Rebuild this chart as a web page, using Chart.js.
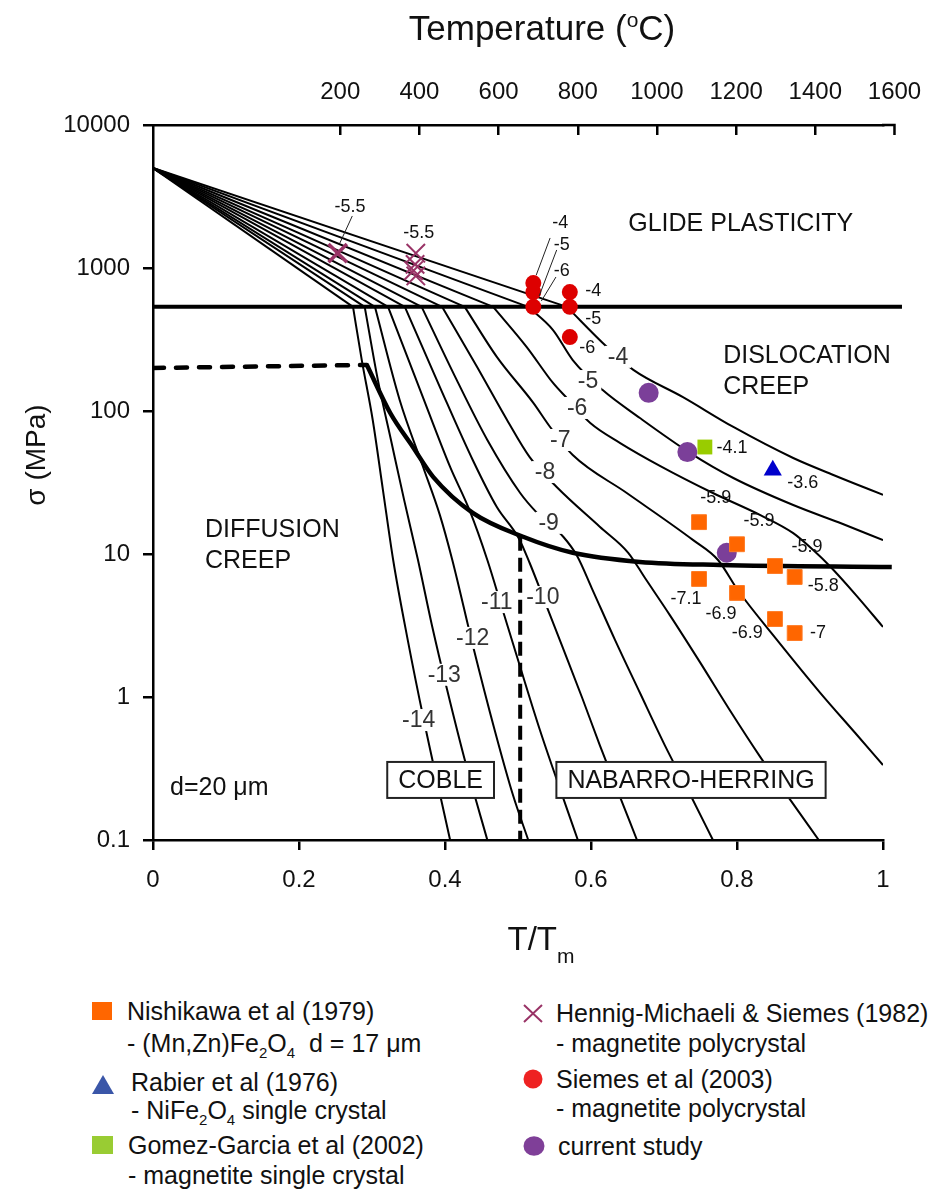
<!DOCTYPE html>
<html>
<head>
<meta charset="utf-8">
<script src="https://cdn.jsdelivr.net/npm/chart.js@4.4.1/dist/chart.umd.min.js"></script>
<style>
  html, body { margin: 0; padding: 0; background: #fff; }
  body { width: 930px; height: 1192px; overflow: hidden; position: relative;
         font-family: "Liberation Sans", Arial, Helvetica, sans-serif; color: #111; }
  #wrap { position: absolute; left: 0; top: 0; width: 930px; height: 985px; }
  .lg { position: absolute; font-size: 25px; line-height: 30px; white-space: nowrap; }
  .lg sub { font-size: 15px; line-height: 0; vertical-align: -6px; }
  .mk { position: absolute; }
</style>
</head>
<body>
<div id="wrap"><canvas id="map" width="930" height="985"></canvas></div>

<!-- legend -->
<svg class="mk" style="left:92px;top:1002px" width="20" height="18"><rect width="20" height="18" fill="#FF6600"/></svg>
<div class="lg" style="left:127px;top:996px">Nishikawa et al (1979)</div>
<div class="lg" style="left:127px;top:1028px">- (Mn,Zn)Fe<sub>2</sub>O<sub>4</sub>&nbsp; d = 17 μm</div>

<svg class="mk" style="left:92px;top:1075px" width="22" height="19"><polygon points="11,0 22,19 0,19" fill="#3A56A8"/></svg>
<div class="lg" style="left:131px;top:1067px">Rabier et al (1976)</div>
<div class="lg" style="left:131px;top:1095px">- NiFe<sub>2</sub>O<sub>4</sub> single crystal</div>

<svg class="mk" style="left:92px;top:1136px" width="21" height="18"><rect width="21" height="18" fill="#99CC33"/></svg>
<div class="lg" style="left:128px;top:1130px">Gomez-Garcia et al (2002)</div>
<div class="lg" style="left:128px;top:1160px">- magnetite single crystal</div>

<svg class="mk" style="left:523px;top:1004px" width="20" height="19"><path d="M1 1 L19 18 M19 1 L1 18" stroke="#993366" stroke-width="2"/></svg>
<div class="lg" style="left:556px;top:998px">Hennig-Michaeli &amp; Siemes (1982)</div>
<div class="lg" style="left:556px;top:1028px">- magnetite polycrystal</div>

<svg class="mk" style="left:523px;top:1069px" width="20" height="20"><circle cx="10" cy="10" r="9.5" fill="#EE2222"/></svg>
<div class="lg" style="left:556px;top:1064px">Siemes et al (2003)</div>
<div class="lg" style="left:556px;top:1093px">- magnetite polycrystal</div>

<svg class="mk" style="left:523px;top:1136px" width="22" height="20"><ellipse cx="11" cy="10" rx="10.5" ry="9.8" fill="#7F3F98"/></svg>
<div class="lg" style="left:558px;top:1131px">current study</div>

<script>
const FONT = '"Liberation Sans", Arial, Helvetica, sans-serif';

// ---- strain-rate contours: log10(strain rate / s^-1) ----
const rates = [-4, -5, -6, -7, -8, -9, -10, -11, -12, -13, -14];

// all glide contours radiate from the 0 K strength
const idealStrength = 5000;          // MPa at T/Tm = 0
// glide-plasticity limit
const glideLimitT = [0, 1.026];
const glideLimitS = [535, 535];
// T/Tm where each contour reaches the glide limit (same order as rates)
const glideMeetT = [0.567, 0.514, 0.466, 0.427, 0.396, 0.368, 0.345, 0.322, 0.304, 0.290, 0.274];

// creep part of each contour below the glide limit (T/Tm, sigma in MPa)
const c4T  = [0.622, 0.658, 0.726, 0.795, 0.877, 0.932, 1.0];
const c4S  = [280, 194, 125, 77.3, 46.9, 35.7, 25.9];
const c5T  = [0.548, 0.575, 0.616, 0.667, 0.736, 0.795, 0.877, 0.945, 1.0];
const c5S  = [368, 227, 140, 89.3, 50.8, 34.0, 22.0, 16.2, 12.5];
const c6T  = [0.512, 0.548, 0.567, 0.599, 0.640, 0.695, 0.767, 0.832, 0.877, 0.904, 0.927, 0.963, 1.0];
const c6S  = [280, 157, 123, 82.4, 59.7, 41.2, 26.7, 18.7, 14.0, 10.7, 8.24, 5.16, 3.09];
const c7T  = [0.471, 0.521, 0.544, 0.575, 0.649, 0.740, 0.774, 0.801, 0.855, 0.914, 0.962, 1.0];
const c7S  = [239, 114, 77.3, 49.2, 26.7, 12.5, 9.08, 5.60, 2.50, 1.07, 0.560, 0.334];
const c8T  = [0.444, 0.485, 0.516, 0.553, 0.612, 0.651, 0.674, 0.708, 0.749, 0.790, 0.832, 0.873, 0.912];
const c8S  = [203, 86.5, 47.6, 29.4, 15.5, 10.2, 6.79, 3.74, 1.76, 0.811, 0.380, 0.191, 0.1];
const c9T  = [0.416, 0.458, 0.503, 0.526, 0.562, 0.581, 0.601, 0.633, 0.667, 0.701, 0.736, 0.767];
const c9S  = [165, 62.7, 26.7, 19.4, 13.2, 9.68, 5.78, 2.50, 1.07, 0.461, 0.207, 0.1];
const c10T = [0.393, 0.438, 0.471, 0.501, 0.516, 0.537, 0.562, 0.588, 0.612, 0.637, 0.663];
const c10S = [147, 45.4, 21.3, 12.9, 8.65, 4.61, 2.17, 0.984, 0.461, 0.217, 0.1];
const c11T = [0.366, 0.407, 0.434, 0.458, 0.479, 0.503, 0.530, 0.558, 0.582];
const c11S = [140, 40.6, 20.0, 9.08, 4.06, 1.62, 0.588, 0.224, 0.1];
const c12T = [0.338, 0.370, 0.393, 0.410, 0.438, 0.468, 0.493, 0.514];
const c12S = [119, 40.6, 18.7, 9.08, 2.31, 0.588, 0.207, 0.1];
const c13T = [0.308, 0.326, 0.344, 0.363, 0.382, 0.403, 0.429, 0.458];
const c13S = [165, 62.7, 23.9, 9.08, 3.19, 1.12, 0.334, 0.1];
const c14T = [0.286, 0.301, 0.315, 0.329, 0.349, 0.371, 0.407];
const c14S = [227, 86.5, 28.0, 9.08, 2.50, 0.690, 0.1];

// dislocation / diffusion creep boundary
const boundT = [0.293, 0.325, 0.356, 0.384, 0.438, 0.507, 0.575, 0.667, 0.777, 1.012];
const boundS = [210, 96.8, 56.0, 34.5, 19.4, 13.2, 10.2, 8.80, 8.38, 8.11];
// dashed limits
const lowGlideT = [0, 0.293];
const lowGlideS = [200, 210];
const cobleNhT = [0.503, 0.503];
const cobleNhS = [13.2, 0.1];

// contour label anchors
const contourLabelT = [0.637, 0.596, 0.581, 0.558, 0.537, 0.542, 0.534, 0.471, 0.438, 0.399, 0.364];
const contourLabelS = [239, 162, 105, 62.7, 37.4, 16.5, 5.0, 4.61, 2.59, 1.43, 0.69];

// ---- experiments (T/Tm, sigma MPa, log strain rate) ----
const nishikawaT = [0.748, 0.800, 0.852, 0.879, 0.748, 0.800, 0.852, 0.879];
const nishikawaS = [16.7, 11.7, 8.24, 6.91, 6.69, 5.34, 3.51, 2.80];
const nishikawaRate = ['-5.9', '-5.9', '-5.9', '-5.8', '-7.1', '-6.9', '-6.9', '-7'];
const nishikawaLabT = [0.771, 0.830, 0.896, 0.918, 0.730, 0.778, 0.814, 0.911];
const nishikawaLabS = [24.7, 17.0, 11.2, 5.97, 4.84, 3.80, 2.81, 2.81];

const rabierT = [0.849];
const rabierS = [38.5];
const rabierRate = ['-3.6'];
const rabierLabT = [0.890];
const rabierLabS = [31.4];

const gomezT = [0.756];
const gomezS = [56.0];
const gomezRate = ['-4.1'];
const gomezLabT = [0.793];
const gomezLabS = [55.1];

const hennigT = [0.253, 0.360, 0.359, 0.357, 0.360];
const hennigS = [1270, 1270, 1060, 960, 880];
const hennigRate = ['-5.5', '-5.5'];
const hennigLabT = [0.270, 0.364];
const hennigLabS = [2673, 1758];

const siemesT = [0.521, 0.521, 0.521, 0.571, 0.571, 0.571];
const siemesS = [785, 679, 535, 679, 535, 329];
const siemesRate = ['-4', '-5', '-6', '-4', '-5', '-6'];
const siemesLabT = [0.558, 0.560, 0.560, 0.603, 0.603, 0.595];
const siemesLabS = [2065, 1449, 953, 690, 440, 276];

const currentT = [0.679, 0.732, 0.786];
const currentS = [134, 51.6, 10.2];

// leader lines from labels to points
const leaderT1 = [0.273, 0.544, 0.553, 0.552];
const leaderS1 = [2311, 1622, 1337, 865];
const leaderT2 = [0.256, 0.525, 0.529, 0.532];
const leaderS2 = [1496, 893, 637, 588];

// region names
const regionText = ['GLIDE PLASTICITY', 'DISLOCATION', 'CREEP', 'DIFFUSION', 'CREEP', 'd=20 μm'];
const regionT = [0.651, 0.781, 0.781, 0.0712, 0.0712, 0.0233];
const regionS = [2032, 243, 147, 14.7, 8.93, 0.231];
const boxText = ['COBLE', 'NABARRO-HERRING'];
const boxT = [0.394, 0.737];
const boxS = [0.263, 0.263];

// axis ticks
const ttmTicks = [0, 0.2, 0.4, 0.6, 0.8, 1];
const stressTicks = [0.1, 1, 10, 100, 1000, 10000];
const tempTicks = [200, 400, 600, 800, 1000, 1200, 1400];
const tempLastTick = 1600;

// ---- build datasets ----
const pts = (T, S) => T.map((t, i) => ({ x: t, y: S[i] }));
const creepT = [c4T, c5T, c6T, c7T, c8T, c9T, c10T, c11T, c12T, c13T, c14T];
const creepS = [c4S, c5S, c6S, c7S, c8S, c9S, c10S, c11S, c12S, c13S, c14S];

const lineBase = { showLine: true, pointRadius: 0, pointHoverRadius: 0, borderColor: '#000',
                   borderWidth: 2, fill: false, order: 2 };

const datasets = [
  { label: 'Nishikawa et al (1979)', data: pts(nishikawaT, nishikawaS), pointStyle: 'rect',
    pointRadius: 10.5, backgroundColor: '#FF6600', borderColor: '#FF7A22', borderWidth: 1, order: 0 },
  { label: 'Rabier et al (1976)', data: pts(rabierT, rabierS), pointStyle: 'triangle',
    pointRadius: 10.5, backgroundColor: '#0000CC', borderColor: '#0000CC', borderWidth: 0, order: 0 },
  { label: 'Gomez-Garcia et al (2002)', data: pts(gomezT, gomezS), pointStyle: 'rect',
    pointRadius: 10.5, backgroundColor: '#99CC00', borderColor: '#99CC00', borderWidth: 0, order: 0 },
  { label: 'Hennig-Michaeli & Siemes (1982)', data: pts(hennigT, hennigS), pointStyle: 'crossRot',
    pointRadius: 13, borderColor: '#993366', pointBorderWidth: [3.5, 2, 2, 2, 2], order: 0 },
  { label: 'Siemes et al (2003)', data: pts(siemesT, siemesS), pointStyle: 'circle',
    pointRadius: 8, backgroundColor: '#DD0000', borderColor: '#DD0000', borderWidth: 0, order: 0 },
  { label: 'current study', data: pts(currentT, currentS), pointStyle: 'circle',
    pointRadius: 10, backgroundColor: '#7B3F99', borderColor: '#7B3F99', borderWidth: 0, order: 0 }
];

rates.forEach((r, i) => {
  datasets.push({ ...lineBase, label: `glide ${r}`,
    data: [{ x: 0, y: idealStrength }, { x: glideMeetT[i], y: glideLimitS[0] }] });
  datasets.push({ ...lineBase, label: `creep ${r}`, cubicInterpolationMode: 'monotone',
    data: [{ x: glideMeetT[i], y: glideLimitS[0] }, ...pts(creepT[i], creepS[i])] });
});
datasets.push({ ...lineBase, label: 'glide limit', data: pts(glideLimitT, glideLimitS),
  borderWidth: 4, clip: false });
datasets.push({ ...lineBase, label: 'diffusion boundary', data: pts(boundT, boundS),
  borderWidth: 4.5, cubicInterpolationMode: 'monotone', clip: false });
datasets.push({ ...lineBase, label: 'low-stress glide', data: pts(lowGlideT, lowGlideS),
  borderWidth: 4.5, borderDash: [11, 12], borderCapStyle: 'round' });
datasets.push({ ...lineBase, label: 'Coble / Nabarro-Herring', data: pts(cobleNhT, cobleNhS),
  borderWidth: 4, borderDash: [14, 7] });

// ---- text drawn in data coordinates ----
const pointLabels = [
  ...nishikawaRate.map((s, i) => ({ s, t: nishikawaLabT[i], v: nishikawaLabS[i] })),
  ...rabierRate.map((s, i) => ({ s, t: rabierLabT[i], v: rabierLabS[i] })),
  ...gomezRate.map((s, i) => ({ s, t: gomezLabT[i], v: gomezLabS[i] })),
  ...hennigRate.map((s, i) => ({ s, t: hennigLabT[i], v: hennigLabS[i] })),
  ...siemesRate.map((s, i) => ({ s, t: siemesLabT[i], v: siemesLabS[i] }))
];

const annotations = {
  id: 'annotations',
  afterDatasetsDraw(chart) {
    const { ctx } = chart;
    const X = t => chart.scales.x.getPixelForValue(t);
    const Y = s => chart.scales.y.getPixelForValue(s);
    ctx.save();

    ctx.strokeStyle = '#222';
    ctx.lineWidth = 1;
    leaderT1.forEach((t, i) => {
      ctx.beginPath();
      ctx.moveTo(X(t), Y(leaderS1[i]));
      ctx.lineTo(X(leaderT2[i]), Y(leaderS2[i]));
      ctx.stroke();
    });

    ctx.textAlign = 'center';
    ctx.textBaseline = 'middle';
    ctx.font = `23px ${FONT}`;
    rates.forEach((r, i) => {
      const px = X(contourLabelT[i]), py = Y(contourLabelS[i]);
      const txt = String(r);
      const w = ctx.measureText(txt).width;
      ctx.fillStyle = '#fff';
      ctx.fillRect(px - w / 2 - 3, py - 11, w + 6, 22);
      ctx.fillStyle = '#333';
      ctx.fillText(txt, px, py + 1);
    });

    ctx.font = `18px ${FONT}`;
    ctx.fillStyle = '#111';
    pointLabels.forEach(p => ctx.fillText(p.s, X(p.t), Y(p.v)));

    ctx.textAlign = 'left';
    ctx.font = `25px ${FONT}`;
    regionText.forEach((s, i) => ctx.fillText(s, X(regionT[i]), Y(regionS[i])));

    ctx.textAlign = 'center';
    ctx.lineWidth = 2;
    ctx.strokeStyle = '#222';
    boxText.forEach((s, i) => {
      const cx = X(boxT[i]), cy = Y(boxS[i]);
      const w = ctx.measureText(s).width + 22;
      ctx.fillStyle = '#fff';
      ctx.fillRect(cx - w / 2, cy - 18, w, 36);
      ctx.strokeRect(cx - w / 2, cy - 18, w, 36);
      ctx.fillStyle = '#111';
      ctx.fillText(s, cx, cy + 1);
    });
    ctx.restore();
  }
};

// axis titles and the last temperature tick that runs past the plot
const axisDecor = {
  id: 'axisDecor',
  afterDraw(chart) {
    const { ctx } = chart;
    const top = chart.scales.xTop;
    ctx.save();
    const xEnd = top.getPixelForValue(tempLastTick);
    ctx.strokeStyle = '#000';
    ctx.lineWidth = 2.5;
    ctx.beginPath();
    ctx.moveTo(top.right - 1, top.bottom);
    ctx.lineTo(xEnd + 1.25, top.bottom);
    ctx.moveTo(xEnd, top.bottom);
    ctx.lineTo(xEnd, top.bottom + 10);
    ctx.stroke();
    ctx.fillStyle = '#111';
    ctx.font = `24px ${FONT}`;
    ctx.textAlign = 'center';
    ctx.textBaseline = 'middle';
    ctx.fillText(String(tempLastTick), xEnd, 92);

    // top title: Temperature (°C) with a raised "o"
    ctx.textBaseline = 'alphabetic';
    ctx.textAlign = 'left';
    const big = `35px ${FONT}`, small = `21px ${FONT}`;
    ctx.font = big; const w1 = ctx.measureText('Temperature (').width; const w3 = ctx.measureText('C)').width;
    ctx.font = small; const w2 = ctx.measureText('o').width;
    let x0 = 542 - (w1 + w2 + w3) / 2;
    ctx.font = big; ctx.fillText('Temperature (', x0, 40);
    ctx.font = small; ctx.fillText('o', x0 + w1, 27);
    ctx.font = big; ctx.fillText('C)', x0 + w1 + w2, 40);

    // bottom title: T/Tm
    ctx.font = `33px ${FONT}`; const b1 = ctx.measureText('T/T').width;
    ctx.font = small; const b2 = ctx.measureText('m').width;
    x0 = 541 - (b1 + b2) / 2;
    ctx.font = `33px ${FONT}`; ctx.fillText('T/T', x0, 950);
    ctx.font = small; ctx.fillText('m', x0 + b1, 963);

    // left title
    ctx.translate(37, 455);
    ctx.rotate(-Math.PI / 2);
    ctx.textAlign = 'center';
    ctx.textBaseline = 'middle';
    ctx.font = `28px ${FONT}`;
    ctx.fillText('σ (MPa)', 0, 0);
    ctx.restore();
  }
};

const axisLook = (size) => ({
  grid: { display: true, drawOnChartArea: false, drawTicks: true, tickLength: size,
          color: '#000', lineWidth: 2.5, tickColor: '#000', tickWidth: 2.5 },
  border: { display: true, color: '#000', width: 2.5 }
});

new Chart(document.getElementById('map'), {
  type: 'scatter',
  data: { datasets },
  options: {
    responsive: false,
    animation: false,
    devicePixelRatio: 1,
    events: [],
    layout: { padding: { left: 0, right: 47, top: 0, bottom: 0 } },
    plugins: { legend: { display: false }, tooltip: { enabled: false } },
    scales: {
      x: {
        type: 'linear', position: 'bottom', min: 0, max: 1,
        afterBuildTicks: s => { s.ticks = ttmTicks.map(v => ({ value: v })); },
        afterFit: s => { s.height = 145; },
        ticks: { autoSkip: false, maxRotation: 0, padding: 16, color: '#111',
                 font: { family: FONT, size: 24 }, callback: v => String(Math.round(v * 10) / 10) },
        ...axisLook(10)
      },
      y: {
        type: 'logarithmic', position: 'left', min: 0.1, max: 10000,
        afterBuildTicks: s => { s.ticks = stressTicks.map(v => ({ value: v })); },
        afterFit: s => { s.width = 153; },
        ticks: { autoSkip: false, padding: 13, color: '#111',
                 font: { family: FONT, size: 24 }, callback: v => (v < 1 ? '0.1' : String(v)) },
        ...axisLook(10)
      },
      xTop: {
        type: 'linear', position: 'top', min: -273, max: 1571,
        afterBuildTicks: s => { s.ticks = tempTicks.map(v => ({ value: v })); },
        afterFit: s => { s.height = 125; },
        ticks: { autoSkip: false, maxRotation: 0, padding: 28, color: '#111',
                 font: { family: FONT, size: 24 }, callback: v => String(v) },
        ...axisLook(-10)
      }
    }
  },
  plugins: [annotations, axisDecor]
});
</script>
</body>
</html>
